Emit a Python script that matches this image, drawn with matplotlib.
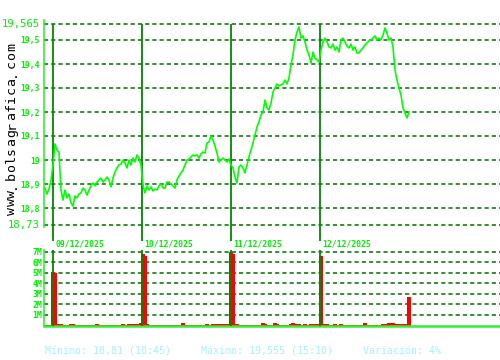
import matplotlib
matplotlib.use("Agg")
import matplotlib.pyplot as plt
import numpy as np

plt.rcParams['lines.scale_dashes'] = False

# ---- data (sample index i: evenly spaced intraday samples over 4 sessions) ----
price = [
    18.883, 18.858, 18.879, 18.917, 18.979, 19.067, 19.042, 19.033, 18.875, 18.833,
    18.875, 18.842, 18.858, 18.821, 18.808, 18.850, 18.842, 18.858, 18.863, 18.883,
    18.875, 18.854, 18.875, 18.892, 18.904, 18.892, 18.908, 18.917, 18.925, 18.908,
    18.917, 18.929, 18.917, 18.888, 18.925, 18.950, 18.967, 18.979, 18.983, 19.000,
    18.988, 18.967, 19.000, 18.979, 19.008, 18.992, 19.021, 19.008, 18.979, 18.896,
    18.863, 18.892, 18.875, 18.888, 18.871, 18.879, 18.875, 18.892, 18.900, 18.883,
    18.883, 18.908, 18.908, 18.900, 18.892, 18.883, 18.917, 18.933, 18.946, 18.958,
    18.979, 19.000, 19.004, 19.013, 19.021, 19.017, 19.021, 19.008, 19.025, 19.033,
    19.029, 19.071, 19.075, 19.100, 19.083, 19.058, 19.029, 18.992, 19.000, 19.008,
    19.000, 18.992, 19.004, 18.979, 18.967, 18.929, 18.904, 18.971, 18.979, 18.967,
    18.946, 18.979, 19.013, 19.042, 19.071, 19.104, 19.138, 19.158, 19.188, 19.200,
    19.250, 19.217, 19.208, 19.238, 19.283, 19.300, 19.317, 19.308, 19.313, 19.317,
    19.333, 19.317, 19.342, 19.396, 19.438, 19.500, 19.533, 19.554, 19.508, 19.517,
    19.492, 19.458, 19.438, 19.404, 19.450, 19.425, 19.417, 19.408, 19.458, 19.492,
    19.508, 19.492, 19.471, 19.467, 19.483, 19.458, 19.471, 19.450, 19.500, 19.508,
    19.492, 19.475, 19.467, 19.483, 19.458, 19.471, 19.446, 19.446, 19.458, 19.467,
    19.479, 19.488, 19.496, 19.500, 19.508, 19.517, 19.500, 19.508, 19.500, 19.521,
    19.550, 19.529, 19.500, 19.508, 19.471, 19.375, 19.333, 19.300, 19.271, 19.217,
    19.196, 19.175, 19.200,
]

volume = [0.06] * len(price)   # millions
volume_spikes = {
    4: 5.1, 5: 5.0, 6: 0.15, 7: 0.1, 8: 0.15, 13: 0.15, 14: 0.1, 26: 0.12,
    39: 0.12, 42: 0.1, 44: 0.12, 46: 0.15, 47: 0.1, 48: 0.2, 49: 6.8, 50: 6.6,
    51: 0.1, 69: 0.25, 81: 0.12, 84: 0.12, 86: 0.15, 87: 0.12, 89: 0.15,
    91: 0.1, 92: 0.15, 93: 7.0, 94: 6.8, 95: 0.1, 96: 0.1, 109: 0.2, 110: 0.15,
    115: 0.2, 116: 0.1, 123: 0.15, 124: 0.25, 125: 0.15, 126: 0.15, 127: 0.12,
    130: 0.1, 133: 0.1, 135: 0.1, 137: 0.15, 138: 6.6, 139: 0.12, 141: 0.12,
    145: 0.1, 148: 0.1, 160: 0.2, 169: 0.12, 170: 0.15, 171: 0.12, 172: 0.25,
    173: 0.12, 174: 0.2, 175: 0.15, 176: 0.12, 177: 0.15, 178: 0.12, 179: 0.15,
    180: 0.12, 181: 0.15, 182: 2.7,
}
for k, v in volume_spikes.items():
    volume[k] = v

session_starts = [4, 48.5, 93, 137.5]
session_labels = ["09/12/2025", "10/12/2025", "11/12/2025", "12/12/2025"]

price_ticks = [19.5, 19.4, 19.3, 19.2, 19.1, 19.0, 18.9, 18.8]
price_tick_labels = ["19,5", "19,4", "19,3", "19,2", "19,1", "19", "18,9", "18,8"]
price_max_axis, price_min_axis = 19.565, 18.73
price_max_label, price_min_label = "19,565", "18,73"
vol_ticks = [1, 2, 3, 4, 5, 6, 7]
vol_tick_labels = ["1M", "2M", "3M", "4M", "5M", "6M", "7M"]

watermark = "www.bolsagrafica.com"
footer = "Mínimo: 18,81 (10:45)     Máximo: 19,555 (15:10)     Variación: 4%"

# ---- styling ----
BRIGHT = "#00ff00"
SPINE = "#33ee33"
GRID = "#006f00"
DAY = "#008800"
LABEL = "#00ee00"
MONO = "DejaVu Sans Mono"
dash = (0, (3.0, 2.2))

fig = plt.figure(figsize=(5, 3.6), dpi=100)
W, H = 500, 360

def ax_rect(x0, y0, x1, y1):
    return [x0 / W, 1 - y1 / H, (x1 - x0) / W, (y1 - y0) / H]

xs = np.arange(len(price))
xlim = (-0.5, 227.5)

# ---- price panel ----
ax = fig.add_axes(ax_rect(44, 20, 500, 241))
ylo = 19 - (241 - 160) / 240
yhi = 19 - (20 - 160) / 240
ax.set_xlim(*xlim)
ax.set_ylim(ylo, yhi)
for lvl in price_ticks + [price_max_axis, price_min_axis]:
    ax.axhline(lvl, color=GRID, lw=1.1, ls=dash, zorder=1)
ax.vlines(session_starts, ylo, price_max_axis, color=DAY, lw=1.3, zorder=2)
ax.plot(xs, price, color=BRIGHT, lw=1.2, zorder=3)
for s in ["top", "right", "bottom"]:
    ax.spines[s].set_visible(False)
ax.spines["left"].set_color(SPINE)
ax.spines["left"].set_linewidth(1.2)
ax.spines["left"].set_bounds(price_min_axis - 0.01, yhi)
ax.set_xticks([])
ax.set_yticks(price_ticks)
ax.set_yticklabels(price_tick_labels, fontfamily=MONO, fontweight="bold",
                   fontsize=5.8, color=LABEL)
ax.tick_params(axis="y", length=0, pad=3.2)
for val, lab in [(price_max_axis, price_max_label), (price_min_axis, price_min_label)]:
    ax.text(-4 / 456, val, lab, transform=ax.get_yaxis_transform(),
            ha="right", va="center", fontfamily=MONO, fontsize=7.6, color=LABEL)
label_y = 19 - (244 - 160) / 240
for xs0, lab in zip(session_starts, session_labels):
    ax.text(xs0 + 1, label_y, lab, ha="left", va="center", fontfamily=MONO,
            fontweight="bold", fontsize=5.9, color=LABEL, clip_on=False)

# watermark: letters spaced along the left margin
n = len(watermark)
for k, ch in enumerate(watermark):
    ypx = 211 - k * (211 - 47) / (n - 1)
    fig.text(15 / W, 1 - ypx / H, ch, rotation=90, rotation_mode="anchor",
             ha="center", va="baseline", fontfamily=MONO, fontsize=9.5,
             color="black")

# ---- volume panel ----
av = fig.add_axes(ax_rect(44, 250, 500, 325.5))
av.set_xlim(*xlim)
av.set_ylim(0, 75.5 / 10.57)
for lvl in vol_ticks:
    av.axhline(lvl, color=GRID, lw=1.1, ls=dash, zorder=1)
av.bar(xs, volume, width=2.0, color="#ff0000", zorder=2, linewidth=0)
av.vlines(session_starts, 0, 7.1, color=DAY, lw=1.3, zorder=3)
for s in ["top", "right"]:
    av.spines[s].set_visible(False)
av.spines["left"].set_color(SPINE)
av.spines["left"].set_linewidth(1.2)
av.spines["bottom"].set_color(SPINE)
av.spines["bottom"].set_linewidth(1.8)
av.set_xticks([])
av.set_yticks(vol_ticks)
av.set_yticklabels(vol_tick_labels, fontfamily=MONO, fontweight="bold",
                   fontsize=5.9, color=LABEL)
av.tick_params(axis="y", length=0, pad=1.5)

fig.text(45 / W, 1 - 351 / H, footer, ha="left", va="center", fontfamily=MONO,
         fontsize=7.1, color="#a8f0ff")

fig.savefig("out.png", dpi=100, facecolor="white")
